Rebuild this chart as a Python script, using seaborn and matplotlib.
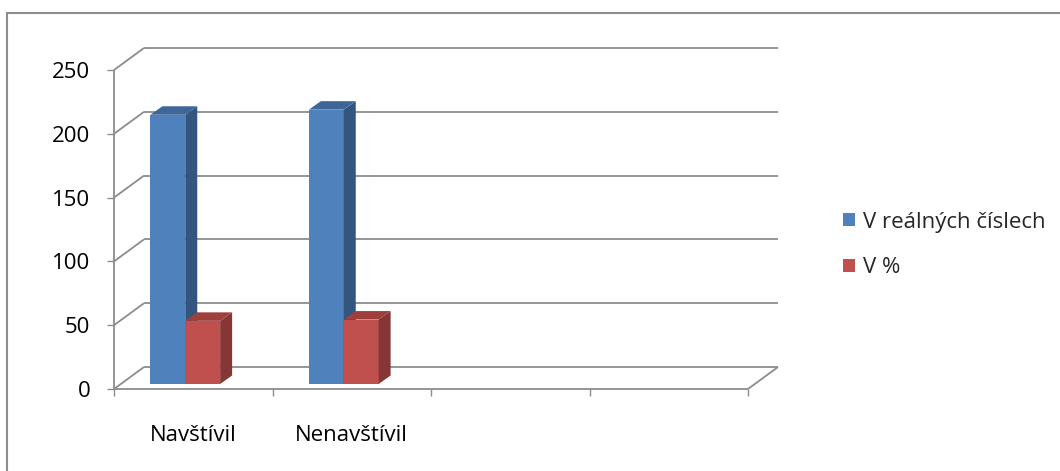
import matplotlib
matplotlib.use("Agg")
import matplotlib.pyplot as plt
import numpy as np
import pandas as pd
import seaborn as sns
from matplotlib.lines import Line2D
from matplotlib.patches import Polygon, Patch, Rectangle
from matplotlib.transforms import IdentityTransform, ScaledTranslation

# ---- data -------------------------------------------------------------
categories = ["Navštívil", "Nenavštívil", " ", "  "]
series_names = ["V reálných číslech", "V %"]
real_counts = [211, 215]
percent_values = [49.5, 50.5]
y_ticks = [0, 50, 100, 150, 200, 250]

# ---- styling ----------------------------------------------------------
W, H, DPI = 1060, 471, 100
FRONT = ["#4F81BD", "#C0504D"]
SIDE = ["#34557D", "#863634"]
TOP = ["#3E6699", "#9E3F3C"]
GRID = "#8C8C8C"
FS = 16

sns.set_theme(style="white")
plt.rcParams["font.family"] = ["Open Sans", "DejaVu Sans"]

df = pd.DataFrame({
    "kategorie": categories[:2] * 2,
    "serie": [series_names[0]] * 2 + [series_names[1]] * 2,
    "hodnota": real_counts + percent_values,
})

fig = plt.figure(figsize=(W / DPI, H / DPI), dpi=DPI)
fig.patch.set_facecolor("white")

# front plane of the 3-D box, in pixels measured from the top-left corner
px_left, px_right, px_bottom, px_top = 114, 748, 389, 70
ax = fig.add_axes([px_left / W, (H - px_bottom) / H,
                   (px_right - px_left) / W, (px_bottom - px_top) / H])

sns.barplot(data=df, x="kategorie", y="hodnota", hue="serie",
            order=categories, hue_order=series_names, palette=FRONT,
            saturation=1, width=0.44, gap=0, dodge=True, legend=False,
            linewidth=0, ax=ax)

ax.set_xlim(-0.5, len(categories) - 0.5)
ax.set_ylim(0, 250)
ax.set_autoscale_on(False)
ax.set_facecolor("none")
for s in ax.spines.values():
    s.set_visible(False)
ax.set_xlabel("")
ax.set_ylabel("")

# depth of the box (walls) and of each column, in pixels
DEPTH = np.array([30.0, 22.0])
BAR_DEPTH = np.array([12.0, 8.5])
BAR_SHIFT = ScaledTranslation(-8 / DPI, 5 / DPI, fig.dpi_scale_trans)

fig.canvas.draw()
to_px = ax.transData.transform
xmin, xmax = ax.get_xlim()


def line(p, q, z=0.5):
    ax.add_line(Line2D([p[0], q[0]], [p[1], q[1]], color=GRID, lw=1.3,
                       transform=IdentityTransform(), clip_on=False,
                       zorder=z, solid_capstyle="butt"))


# side wall and back wall gridlines
for v in y_ticks:
    front = to_px((xmin, v))
    back = front + DEPTH
    back_r = to_px((xmax, v)) + DEPTH
    line(front, back)
    line(back, back_r)

# floor outline and the value axis
f_l, f_r = to_px((xmin, 0)), to_px((xmax, 0))
line(f_l, f_r, 0.6)
line(f_r, f_r + DEPTH, 0.6)
line(to_px((xmin, 0)), to_px((xmin, 250)), 0.6)

# extrude every seaborn bar into a 3-D column
for hue_idx, container in enumerate(ax.containers):
    for bar in container:
        tr = ax.transData + BAR_SHIFT
        bar.set_transform(tr)
        bar.set_zorder(2 + hue_idx)
        x, w, h = bar.get_x(), bar.get_width(), bar.get_height()
        br = tr.transform((x + w, 0))
        tl, trr = tr.transform((x, h)), tr.transform((x + w, h))
        side = [br, br + BAR_DEPTH, trr + BAR_DEPTH, trr]
        top = [tl, trr, trr + BAR_DEPTH, tl + BAR_DEPTH]
        for pts, col in ((side, SIDE[hue_idx]), (top, TOP[hue_idx])):
            ax.add_patch(Polygon(pts, closed=True, facecolor=col,
                                 edgecolor="none", transform=IdentityTransform(),
                                 clip_on=False, zorder=2 + hue_idx))

# ticks
ax.set_yticks(y_ticks)
ax.set_yticklabels([str(v) for v in y_ticks])
ax.tick_params(axis="y", which="major", left=True, direction="out",
               length=5, width=1, color=GRID, pad=12, labelsize=FS,
               labelcolor="black")
ax.set_xticks(range(len(categories)))
ax.set_xticklabels(categories)
ax.set_xticks(np.arange(-0.5, len(categories)), minor=True)
ax.tick_params(axis="x", which="major", bottom=True, length=0, pad=26,
               labelsize=FS, labelcolor="black")
ax.tick_params(axis="x", which="minor", bottom=True, direction="out",
               length=5, width=1, color=GRID)

# legend
handles = [Patch(facecolor=c, edgecolor="none") for c in FRONT]
ax.legend(handles, series_names, loc="center left",
          bbox_to_anchor=(843 / W, 1 - 245 / H), bbox_transform=fig.transFigure,
          frameon=False, fontsize=FS, handlelength=0.54, handleheight=0.54,
          handletextpad=0.36, labelspacing=1.11, borderpad=0, borderaxespad=0)

# chart border
fig.add_artist(Rectangle((7, -10), W + 20, H - 13 + 10, fill=False,
                         edgecolor="#8C8C8C", lw=1.5,
                         transform=IdentityTransform()))

fig.savefig("out.png", dpi=DPI)
